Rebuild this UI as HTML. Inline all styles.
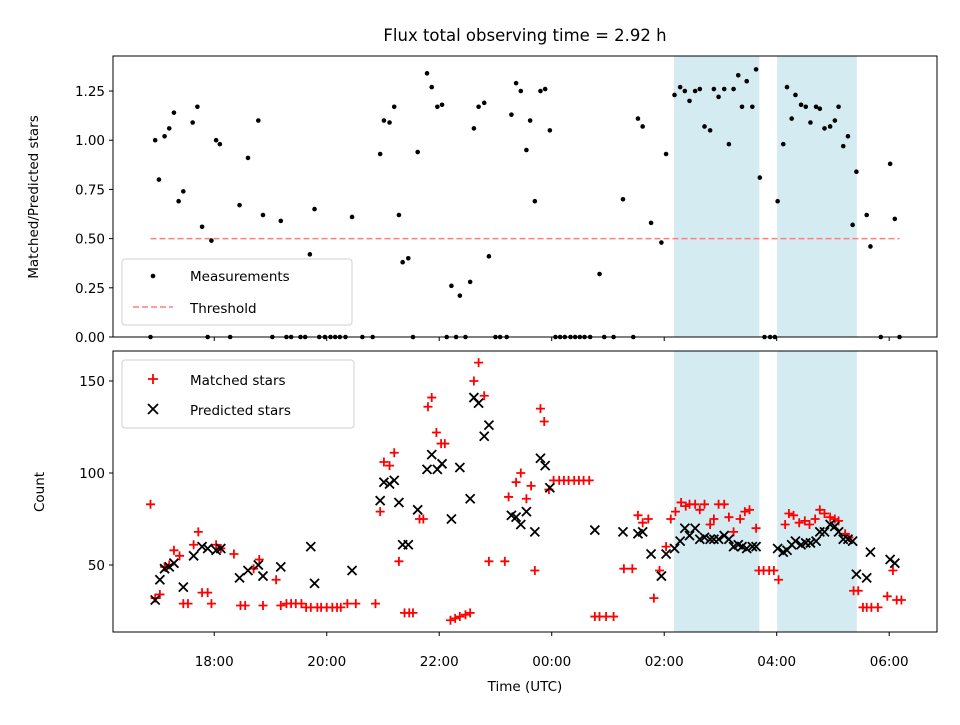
<!DOCTYPE html>
<html><head><meta charset="utf-8"><style>
body{margin:0;background:#fff;}
svg{font-family:"DejaVu Sans","Liberation Sans",sans-serif;}
</style></head><body>
<svg id="chart" width="960" height="720"></svg>
<script>
// time in minutes after 18:00 UTC
const topTime=[-68,-63,-59,-53,-48,-43,-38,-33,-23,-18,-13,-7,-3,2,6,17,27,36,47,52,62,71,77,82,92,97,102,107,112,118,124,129,134,140,147,158,169,177,181,187,192,197,201,207,212,217,227,232,238,243,248,253,258,262,268,273,277,282,288,293,300,305,312,317,322,327,333,337,342,348,353,358,364,369,374,380,385,390,395,401,411,416,426,436,447,452,457,466,477,482,491,497,502,507,513,518,523,529,533,538,544,549,554,559,563,568,574,578,582,587,593,598,601,607,611,616,620,626,631,636,642,646,651,657,662,666,671,676,681,685,696,700,711,721,726,731];
const topRatio=[0,1.0,0.80,1.02,1.06,1.14,0.69,0.74,1.09,1.17,0.56,0,0.49,1.0,0.98,0,0.67,0.91,1.10,0.62,0,0.59,0,0,0,0,0.42,0.65,0,0,0,0,0,0,0.61,0,0,0.93,1.10,1.09,1.17,0.62,0.38,0.40,0,0.94,1.34,1.27,1.17,1.18,0,0.26,0,0.21,0,0.28,1.06,1.17,1.19,0.41,0,0,0,1.13,1.29,1.25,0.95,1.10,0.69,1.25,1.26,1.05,0,0,0,0,0,0,0,0,0.32,0,0,0.70,0,1.11,1.07,0.58,0.48,0.93,1.23,1.27,1.25,1.20,1.25,1.26,1.07,1.05,1.26,1.22,1.26,0.98,1.26,1.33,1.17,1.30,1.17,1.36,0.81,0,0,0,0.69,0.98,1.27,1.11,1.23,1.18,1.17,1.09,1.17,1.16,1.06,1.07,1.10,1.17,0.97,1.02,0.57,0.84,0.62,0.46,0,0.88,0.60,0];
const matchedTime=[-68,-63,-58,-53,-48,-43,-37,-33,-28,-22,-17,-13,-7,-3,2,7,21,28,33,42,48,52,66,71,77,82,87,93,98,103,110,114,120,126,131,135,142,151,172,177,181,187,192,197,203,208,212,219,223,228,232,237,242,246,252,257,262,268,273,277,282,288,293,310,314,322,327,333,338,342,348,352,357,362,368,373,378,384,389,394,400,406,411,418,426,437,446,452,457,463,469,475,482,487,492,498,503,507,513,518,523,529,533,538,544,549,554,561,566,571,578,581,586,592,597,602,609,613,618,624,630,635,641,646,651,657,662,666,673,677,682,687,692,696,701,708,718,724,728,733];
const matchedCount=[83,32,34,49,50,58,55,29,29,61,68,35,35,29,61,59,56,28,28,48,53,28,42,28,29,29,29,29,27,27,27,27,27,27,27,27,29,29,29,79,106,104,111,52,24,24,24,75,75,136,141,122,116,116,20,21,22,23,24,150,160,142,52,52,87,95,100,86,93,47,135,128,91,96,96,96,96,96,96,96,96,22,22,22,22,48,48,77,73,75,32,47,60,75,79,84,82,83,83,80,83,72,75,83,83,76,68,75,79,80,70,47,47,47,47,42,72,78,77,73,74,72,75,80,78,76,75,74,67,65,36,36,27,27,27,27,33,47,31,31];
const predictedTime=[-63,-58,-53,-48,-43,-33,-22,-13,-7,2,7,27,36,47,52,71,103,107,147,177,181,187,192,197,201,207,217,227,232,238,243,253,262,273,277,282,288,293,317,322,327,333,342,348,353,358,406,436,452,457,466,477,482,491,497,502,507,513,518,523,529,533,538,544,549,554,559,563,568,574,578,601,607,611,616,620,626,631,636,642,646,651,657,662,666,671,676,681,685,696,700,721,726];
const predictedCount=[31,42,48,49,51,38,55,60,59,58,59,43,47,50,44,49,60,40,47,85,95,94,96,84,61,61,80,102,110,102,105,75,103,86,141,138,120,126,77,76,72,79,68,108,104,92,69,68,67,68,56,44,56,59,63,70,66,70,64,65,64,64,64,66,64,60,61,60,59,60,60,59,57,58,61,63,61,62,62,63,68,68,72,71,68,64,64,63,45,43,57,53,51];
const shadeSpans=[[491,581],[601,685]];
const threshold=0.5, thresholdSpan=[-68,731];
const xTicks=[0,120,240,360,480,600,720];
const xTickLabels=["18:00","20:00","22:00","00:00","02:00","04:00","06:00"];
const topYTicks=[0,0.25,0.5,0.75,1.0,1.25];
const topYLabels=["0.00","0.25","0.50","0.75","1.00","1.25"];
const botYTicks=[50,100,150];

const NS="http://www.w3.org/2000/svg";
const svg=document.getElementById('chart');
function el(tag,attrs,parent){const e=document.createElementNS(NS,tag);for(const k in attrs)e.setAttribute(k,attrs[k]);(parent||svg).appendChild(e);return e;}
const L=113,R=937;
const x=t=>L+(t+108)/(771+108)*(R-L);
const yTop=v=>337-(v)/1.428*(337-56);
const yBot=v=>632-(v-13.6)/(166.3-13.6)*(632-351);

function panel(top,bot,name){
  const g=el('g',{});
  
  
  shadeSpans.forEach((s,i)=>{
    const r=el('rect',{x:x(s[0]),y:top,width:x(s[1])-x(s[0]),height:bot-top,fill:'#add8e6',opacity:0.5,stroke:'#add8e6'},g);
    
    
  });
  return g;
}
function frame(top,bot,g){
  const f=el('rect',{x:L,y:top,width:R-L,height:bot-top,fill:'none',stroke:'#000','stroke-width':1},g);
  
  
}
const title=el('text',{x:525,y:41,'text-anchor':'middle','font-size':16.5});
title.textContent='Flux total observing time = 2.92 h';



const gt=panel(56,337,'ratio-panel');
const th=el('line',{x1:x(thresholdSpan[0]),x2:x(thresholdSpan[1]),y1:yTop(threshold),y2:yTop(threshold),stroke:'#ff7f7f','stroke-width':1.5,'stroke-dasharray':'6,3'},gt);


topTime.forEach((t,i)=>{
  const c=el('circle',{cx:x(t),cy:yTop(topRatio[i]),r:2.3,fill:'#000'},gt);
  
  
});
frame(56,337,gt);
topYTicks.forEach((v,i)=>{
  el('line',{x1:L-4,x2:L,y1:yTop(v),y2:yTop(v),stroke:'#000'},gt);
  const tx=el('text',{x:L-8,y:yTop(v)+5,'text-anchor':'end','font-size':13.5},gt);
  tx.textContent=topYLabels[i];
  
  
});
xTicks.forEach(t=>el('line',{x1:x(t),x2:x(t),y1:337,y2:341,stroke:'#000'},gt));
const yl1=el('text',{x:38,y:197,'text-anchor':'middle','font-size':13.5,transform:'rotate(-90 38 197)'},gt);
yl1.textContent='Matched/Predicted stars';


const lg1=el('g',{},gt);


el('rect',{x:122,y:259,width:230,height:66,rx:3,fill:'#fff',stroke:'#ccc',opacity:0.9},lg1);
el('circle',{cx:153,cy:276,r:2.3,fill:'#000'},lg1);
let t1=el('text',{x:190,y:281,'font-size':13.5},lg1);t1.textContent='Measurements';

el('line',{x1:133,x2:173,y1:307,y2:307,stroke:'#ff7f7f','stroke-width':1.5,'stroke-dasharray':'6,3'},lg1);
let t2=el('text',{x:190,y:313,'font-size':13.5},lg1);t2.textContent='Threshold';


const gb=panel(351,632,'count-panel');
matchedTime.forEach((t,i)=>{
  const cx=x(t),cy=yBot(matchedCount[i]);
  const p=el('path',{d:`M${cx-4.5},${cy}H${cx+4.5}M${cx},${cy-4.5}V${cy+4.5}`,stroke:'#f00','stroke-width':1.8},gb);
  
  
});
predictedTime.forEach((t,i)=>{
  const cx=x(t),cy=yBot(predictedCount[i]);
  const p=el('path',{d:`M${cx-4.5},${cy-4.5}L${cx+4.5},${cy+4.5}M${cx-4.5},${cy+4.5}L${cx+4.5},${cy-4.5}`,stroke:'#000','stroke-width':1.8},gb);
  
  
});
frame(351,632,gb);
botYTicks.forEach(v=>{
  el('line',{x1:L-4,x2:L,y1:yBot(v),y2:yBot(v),stroke:'#000'},gb);
  const tx=el('text',{x:L-8,y:yBot(v)+5,'text-anchor':'end','font-size':13.5},gb);
  tx.textContent=v;
  
  
});
xTicks.forEach((t,i)=>{
  el('line',{x1:x(t),x2:x(t),y1:632,y2:636,stroke:'#000'},gb);
  const tx=el('text',{x:x(t),y:666,'text-anchor':'middle','font-size':13.5},gb);
  tx.textContent=xTickLabels[i];
  
  
});
const yl2=el('text',{x:44,y:492,'text-anchor':'middle','font-size':13.5,transform:'rotate(-90 44 492)'},gb);
yl2.textContent='Count';


const xl=el('text',{x:525,y:691,'text-anchor':'middle','font-size':13.5},gb);
xl.textContent='Time (UTC)';


const lg2=el('g',{},gb);


el('rect',{x:122,y:360,width:232,height:68,rx:3,fill:'#fff',stroke:'#ccc',opacity:0.9},lg2);
el('path',{d:'M148,379H158M153,374V384',stroke:'#f00','stroke-width':1.8},lg2);
let t3=el('text',{x:190,y:385,'font-size':13.5},lg2);t3.textContent='Matched stars';

el('path',{d:'M148,404L158,414M148,414L158,404',stroke:'#000','stroke-width':1.8},lg2);
let t4=el('text',{x:190,y:415,'font-size':13.5},lg2);t4.textContent='Predicted stars';

</script>
</body></html>
